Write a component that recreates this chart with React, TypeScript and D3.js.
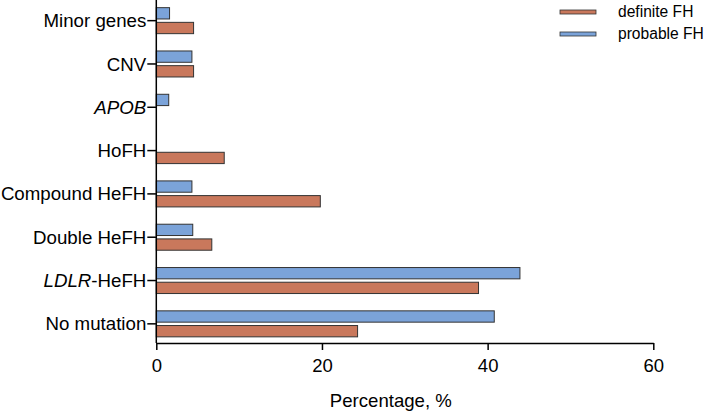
import * as d3 from "d3";
import { useEffect, useRef } from "react";

const categories = ["Minor genes", "CNV", "APOB", "HoFH", "Compound HeFH", "Double HeFH", "LDLR-HeFH", "No mutation"];
const probableFH = [1.6, 4.3, 1.5, 0, 4.3, 4.4, 43.9, 40.8];
const definiteFH = [4.5, 4.5, 0, 8.2, 19.8, 6.7, 38.9, 24.3];
const xTicks = [0, 20, 40, 60];
const seriesNames = ["definite FH", "probable FH"];
const seriesColors = ["#c9785c", "#7ba3d9"];

const FONT = "Arial, 'Liberation Sans', Helvetica, sans-serif";

function App() {
  const svgRef = useRef<SVGSVGElement>(null);

  useEffect(() => {
    const width = 714, height = 413;
    const left = 156.3, right = 653.3, axisY = 343;
    const svg = d3.select(svgRef.current).attr("width", width).attr("height", height);
    svg.selectAll("*").remove();

    const x = d3.scaleLinear([0, 60], [left, right]);
    const y = d3.scaleBand(categories, [-1, 345.5]);
    // blue on top, orange below, 6px gap around the tick
    const sub = d3.scaleBand(["probable", "definite"], [-13, 13]).paddingInner(0.23);

    const rows = categories.map((c, i) => ({ c, p: probableFH[i], d: definiteFH[i] }));
    const g = svg.append("g");

    rows.forEach((r) => {
      const cy = y(r.c)! + y.bandwidth() / 2;
      [["probable", r.p, seriesColors[1]], ["definite", r.d, seriesColors[0]]].forEach(([k, v, col]) => {
        if (!(v as number)) return;
        g.append("rect")
          .attr("x", x(0))
          .attr("y", cy + sub(k as string)!)
          .attr("width", x(v as number) - x(0))
          .attr("height", sub.bandwidth())
          .attr("fill", col as string)
          .attr("stroke", "#333")
          .attr("stroke-width", 1);
      });
    });

    // x axis
    const xa = svg.append("g").attr("transform", `translate(0,${axisY})`)
      .call(d3.axisBottom(x).tickValues(xTicks).tickSize(7).tickSizeOuter(0).tickPadding(9));
    xa.select(".domain").attr("stroke", "#000").attr("stroke-width", 1.5);
    xa.selectAll(".tick line").attr("stroke", "#000").attr("stroke-width", 1.5);
    xa.selectAll(".tick text").attr("font-family", FONT).attr("font-size", 18.5).attr("fill", "#000");

    // y axis
    const ya = svg.append("g").attr("transform", `translate(${left},0)`)
      .call(d3.axisLeft(y).tickSize(9).tickSizeOuter(0).tickPadding(2).tickFormat(() => ""));
    ya.select(".domain").attr("stroke", "#000").attr("stroke-width", 1.5).attr("d", `M0,0V${axisY}`);
    ya.selectAll(".tick line").attr("stroke", "#000").attr("stroke-width", 1.5);
    ya.selectAll<SVGGElement, string>(".tick").each(function (d) {
      const t = d3.select(this).append("text")
        .attr("x", -10).attr("dy", "0.35em")
        .attr("text-anchor", "end")
        .attr("font-family", FONT).attr("font-size", 18.7).attr("fill", "#000");
      if (d === "APOB") {
        t.append("tspan").attr("font-style", "italic").text("APOB");
      } else if (d === "LDLR-HeFH") {
        t.append("tspan").attr("font-style", "italic").text("LDLR");
        t.append("tspan").text("-HeFH");
      } else {
        t.text(d);
      }
    });

    // axis title
    svg.append("text")
      .attr("x", (left + right) / 2 - 14).attr("y", 407)
      .attr("text-anchor", "middle")
      .attr("font-family", FONT).attr("font-size", 18.6).attr("fill", "#000")
      .text("Percentage, %");

    // legend
    const lg = svg.append("g");
    seriesNames.forEach((n, i) => {
      const ly = 12 + i * 22;
      lg.append("rect").attr("x", 560).attr("y", ly - 2).attr("width", 36).attr("height", 4)
        .attr("fill", seriesColors[i]).attr("stroke", "#333").attr("stroke-width", 0.8);
      lg.append("text").attr("x", 618).attr("y", ly).attr("dy", "0.35em")
        .attr("font-family", FONT).attr("font-size", 15.6).attr("fill", "#000").text(n);
    });
  }, []);

  return <svg ref={svgRef} style={{ position: "absolute", left: 0, top: 0 }} />;
}

export default App;
